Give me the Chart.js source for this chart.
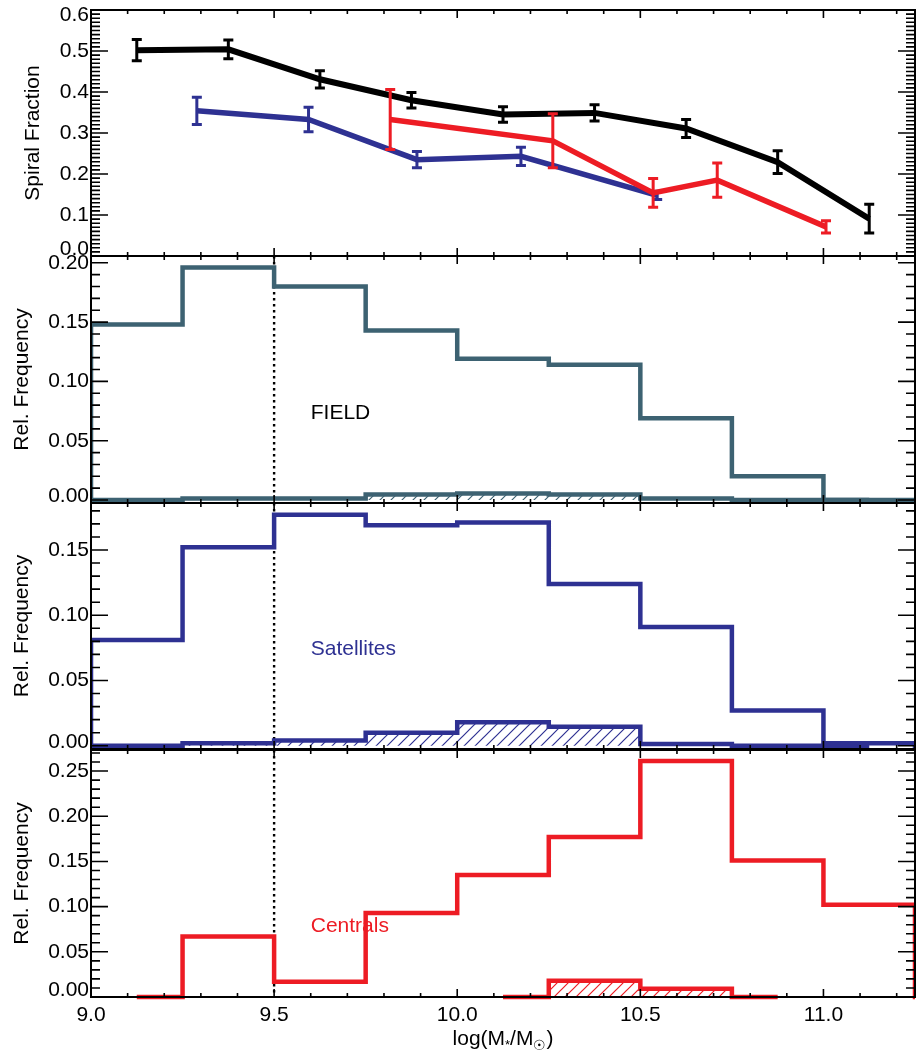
<!DOCTYPE html>
<html>
<head>
<meta charset="utf-8">
<title>Spiral fraction and mass distributions</title>
<script src="https://cdn.jsdelivr.net/npm/chart.js@4.4.1/dist/chart.umd.min.js"></script>
<style>
  html, body { margin: 0; padding: 0; background: #fff; }
  #wrap { position: relative; width: 916px; height: 1054px; }
  #wrap canvas { position: absolute; left: 0; top: 0; }
</style>
</head>
<body>
<div id="wrap">
  <canvas id="pFrac" width="916" height="1054"></canvas>
  <canvas id="pField" width="916" height="1054"></canvas>
  <canvas id="pSat" width="916" height="1054"></canvas>
  <canvas id="pCen" width="916" height="1054"></canvas>
</div>
<script>
// top panel: spiral fraction vs stellar mass
const fieldMass = [9.125, 9.375, 9.625, 9.875, 10.125, 10.375, 10.625, 10.875, 11.125];
const fieldFrac = [0.502, 0.504, 0.431, 0.380, 0.345, 0.349, 0.311, 0.229, 0.091];
const fieldErr  = [0.026, 0.023, 0.021, 0.019, 0.019, 0.020, 0.022, 0.028, 0.035];

const satMass = [9.289, 9.594, 9.890, 10.174, 10.546];
const satFrac = [0.354, 0.333, 0.235, 0.243, 0.148];
const satErr  = [0.033, 0.030, 0.020, 0.022, 0.010];

const cenMass = [9.817, 10.261, 10.535, 10.710, 11.007];
const cenFrac = [0.333, 0.281, 0.154, 0.185, 0.071];
const cenErr  = [0.073, 0.066, 0.035, 0.042, 0.015];

// histograms, 0.25 dex bins (centres); null = bin not drawn
const binCentres  = [8.875, 9.125, 9.375, 9.625, 9.875, 10.125, 10.375, 10.625, 10.875, 11.125, 11.375];
const fieldAll    = [0, 0.148, 0.196, 0.180, 0.143, 0.119, 0.114, 0.069, 0.020, 0, 0];
const fieldSpiral = [0, 0, 0.0013, 0.0013, 0.0046, 0.0055, 0.0046, 0.0013, 0, 0, null];
const satAll      = [0, 0.081, 0.152, 0.177, 0.169, 0.171, 0.124, 0.091, 0.027, 0.002, 0];
const satSpiral   = [0, 0, 0.002, 0.004, 0.010, 0.018, 0.0145, 0.0013, 0, 0, null];
const cenAll      = [null, 0, 0.067, 0.017, 0.093, 0.135, 0.177, 0.261, 0.151, 0.102, 0];
const cenSpiral   = [null, null, null, null, null, 0, 0.018, 0.009, 0, null, null];

// axis ticks
const xTicks     = [9.0, 9.5, 10.0, 10.5, 11.0];
const fracTicks  = [0, 0.1, 0.2, 0.3, 0.4, 0.5, 0.6];
const fieldTicks = [0, 0.05, 0.10, 0.15, 0.20];
const satTicks   = [0, 0.05, 0.10, 0.15];
const cenTicks   = [0, 0.05, 0.10, 0.15, 0.20, 0.25];

const BLACK = "#000000";
const SLATE = "#3d6272";
const BLUE = "#2e3192";
const RED = "#ed1c24";
const FONT = "'Liberation Sans', Arial, Helvetica, sans-serif";

Chart.defaults.font.family = FONT;
Chart.defaults.font.size = 21;
Chart.defaults.color = "#000";

function pts(xs, ys) {
  return xs.map((x, i) => ({ x: x, y: ys[i] }));
}

function hatch(color) {
  const s = 11;
  const c = document.createElement("canvas");
  c.width = s; c.height = s;
  const g = c.getContext("2d");
  g.strokeStyle = color;
  g.lineWidth = 1.2;
  g.beginPath();
  g.moveTo(0, s); g.lineTo(s, 0);
  g.moveTo(-1, 1); g.lineTo(1, -1);
  g.moveTo(s - 1, s + 1); g.lineTo(s + 1, s - 1);
  g.stroke();
  return g.createPattern(c, "repeat");
}

function histSet(ys, color, hatched, clip) {
  return {
    data: pts(binCentres, ys),
    borderColor: color,
    borderWidth: 4.5,
    backgroundColor: hatched ? hatch(color) : "transparent",
    fill: hatched ? "origin" : false,
    stepped: "middle",
    pointRadius: 0,
    clip: clip,
    spanGaps: false
  };
}

// IDL-style box: inward ticks on all four sides, labels, dotted line at 9.5
function idlFrame(p) {
  return {
    id: "idlFrame",
    beforeDraw(chart) {
      // keep end labels inside the box like the original plot
      const a = chart.chartArea;
      chart.scales.y.getLabelItems(a).forEach(it => {
        const t = it.options.translation;
        if (t[1] > a.bottom - 6.5) t[1] = a.bottom - 6.5;
        if (t[1] < a.top + 5) t[1] = a.top + 5;
      });
    },
    beforeDatasetsDraw(chart) {
      if (!p.dotted) return;
      const { ctx, chartArea: a, scales: { x } } = chart;
      const px = x.getPixelForValue(9.5);
      ctx.save();
      ctx.strokeStyle = "#000";
      ctx.lineWidth = 2.4;
      ctx.setLineDash([2.4, 3.6]);
      ctx.beginPath();
      ctx.moveTo(px, a.top);
      ctx.lineTo(px, a.bottom);
      ctx.stroke();
      ctx.restore();
    },
    afterDatasetDraw(chart, args) {
      const ds = chart.data.datasets[args.index];
      if (!ds.errors) return;
      const { ctx, scales: { x, y } } = chart;
      ctx.save();
      ctx.strokeStyle = ds.borderColor;
      ctx.lineWidth = 3;
      ds.data.forEach((pt, i) => {
        const px = x.getPixelForValue(pt.x);
        const t = y.getPixelForValue(pt.y + ds.errors[i]);
        const b = y.getPixelForValue(pt.y - ds.errors[i]);
        ctx.beginPath();
        ctx.moveTo(px, t); ctx.lineTo(px, b);
        ctx.moveTo(px - 5, t); ctx.lineTo(px + 5, t);
        ctx.moveTo(px - 5, b); ctx.lineTo(px + 5, b);
        ctx.stroke();
      });
      ctx.restore();
    },
    afterDraw(chart) {
      const { ctx, chartArea: a, scales: { x, y } } = chart;
      ctx.save();
      ctx.strokeStyle = "#000";
      ctx.lineWidth = 2;
      ctx.strokeRect(a.left, a.top, a.right - a.left, a.bottom - a.top);

      ctx.lineWidth = 1.6;
      ctx.beginPath();
      // x ticks every 0.1, major every 0.5
      for (let k = 0; k <= 22; k++) {
        const px = x.getPixelForValue(9 + k * 0.1);
        const len = k % 5 === 0 ? 8 : 4;
        ctx.moveTo(px, a.bottom); ctx.lineTo(px, a.bottom - len);
        ctx.moveTo(px, a.top); ctx.lineTo(px, a.top + len);
      }
      // y ticks
      const n = Math.floor(y.max / p.minorStep + 1e-6);
      for (let k = 0; k <= n; k++) {
        const py = y.getPixelForValue(k * p.minorStep);
        const len = k % p.minorPer === 0 ? 17 : 9;
        ctx.moveTo(a.left, py); ctx.lineTo(a.left + len, py);
        ctx.moveTo(a.right, py); ctx.lineTo(a.right - len, py);
      }
      ctx.stroke();

      // y title
      ctx.fillStyle = "#000";
      ctx.font = "21px " + FONT;
      ctx.textAlign = "center";
      ctx.textBaseline = "alphabetic";
      ctx.save();
      ctx.translate(p.titleX, (a.top + a.bottom) / 2);
      ctx.rotate(-Math.PI / 2);
      ctx.fillText(p.yTitle, 0, 0);
      ctx.restore();

      // panel name
      if (p.name) {
        ctx.fillStyle = p.nameColor;
        ctx.textAlign = "left";
        ctx.textBaseline = "middle";
        ctx.fillText(p.name, x.getPixelForValue(9.6), y.getPixelForValue(p.nameY));
      }

      // x title with subscripts
      if (p.showX) {
        const parts = [["log(M", 21, 0], ["*", 13, 4], ["/M", 21, 0], ["\u2609", 14, 5], [")", 21, 0]];
        let w = 0;
        parts.forEach(q => { ctx.font = q[1] + "px " + FONT; w += ctx.measureText(q[0]).width; });
        let cx = 503 - w / 2;
        ctx.fillStyle = "#000";
        ctx.textAlign = "left";
        ctx.textBaseline = "alphabetic";
        parts.forEach(q => {
          ctx.font = q[1] + "px " + FONT;
          ctx.fillText(q[0], cx, 1045 + q[2]);
          cx += ctx.measureText(q[0]).width;
        });
      }
      ctx.restore();
    }
  };
}

function makePanel(id, p, datasets) {
  return new Chart(document.getElementById(id), {
    type: "line",
    data: { datasets: datasets },
    plugins: [idlFrame(p)],
    options: {
      responsive: false,
      animation: false,
      layout: { padding: { top: p.top, bottom: p.bottom, left: 0, right: 1 } },
      plugins: { legend: { display: false }, tooltip: { enabled: false } },
      scales: {
        x: {
          type: "linear",
          min: 9.0,
          max: 11.25,
          display: p.showX,
          afterBuildTicks: s => { s.ticks = xTicks.map(v => ({ value: v })); },
          afterFit: s => { if (p.showX) s.height = 57; s.paddingLeft = 0; s.paddingRight = 0; },
          ticks: { padding: 6, maxRotation: 0, autoSkip: false, callback: v => v.toFixed(1) },
          grid: { display: false, drawTicks: false },
          border: { display: false }
        },
        y: {
          type: "linear",
          min: p.yMin,
          max: p.yMax,
          afterBuildTicks: s => { s.ticks = p.yTicks.map(v => ({ value: v })); },
          afterFit: s => { s.width = 91; s.paddingTop = 0; s.paddingBottom = 0; },
          ticks: { padding: 2, callback: v => v.toFixed(p.dec) },
          grid: { display: false, drawTicks: false },
          border: { display: false }
        }
      }
    }
  });
}

const line = (xs, ys, err, color, width, order) => ({
  data: pts(xs, ys), errors: err, borderColor: color, borderWidth: width,
  pointRadius: 0, tension: 0, fill: false, order: order
});

const boxClip = 0;
const openBottom = { left: 0, top: 0, right: 0, bottom: false };

makePanel("pFrac", {
  top: 10, bottom: 798, yMin: 0, yMax: 0.6, yTicks: fracTicks, dec: 1,
  minorStep: 0.01, minorPer: 10, yTitle: "Spiral Fraction", titleX: 38.5, showX: false
}, [
  line(cenMass, cenFrac, cenErr, RED, 5.5, 0),
  line(satMass, satFrac, satErr, BLUE, 5.5, 1),
  line(fieldMass, fieldFrac, fieldErr, BLACK, 6, 2)
]);

makePanel("pField", {
  top: 256, bottom: 551, yMin: -0.0025, yMax: 0.2057, yTicks: fieldTicks, dec: 2,
  minorStep: 0.01, minorPer: 5, yTitle: "Rel. Frequency", titleX: 28, showX: false,
  dotted: true, name: "FIELD", nameColor: BLACK, nameY: 0.073
}, [histSet(fieldAll, SLATE, false, boxClip), histSet(fieldSpiral, SLATE, true, boxClip)]);

makePanel("pSat", {
  top: 503, bottom: 305, yMin: -0.0025, yMax: 0.186, yTicks: satTicks, dec: 2,
  minorStep: 0.01, minorPer: 5, yTitle: "Rel. Frequency", titleX: 28, showX: false,
  dotted: true, name: "Satellites", nameColor: BLUE, nameY: 0.074
}, [histSet(satAll, BLUE, false, boxClip), histSet(satSpiral, BLUE, true, boxClip)]);

makePanel("pCen", {
  top: 750, bottom: 0, yMin: 0, yMax: 0.2733, yTicks: cenTicks, dec: 2,
  minorStep: 0.01, minorPer: 5, yTitle: "Rel. Frequency", titleX: 28, showX: true,
  dotted: true, name: "Centrals", nameColor: RED, nameY: 0.078
}, [histSet(cenAll, RED, false, openBottom), histSet(cenSpiral, RED, true, openBottom)]);
</script>
</body>
</html>
